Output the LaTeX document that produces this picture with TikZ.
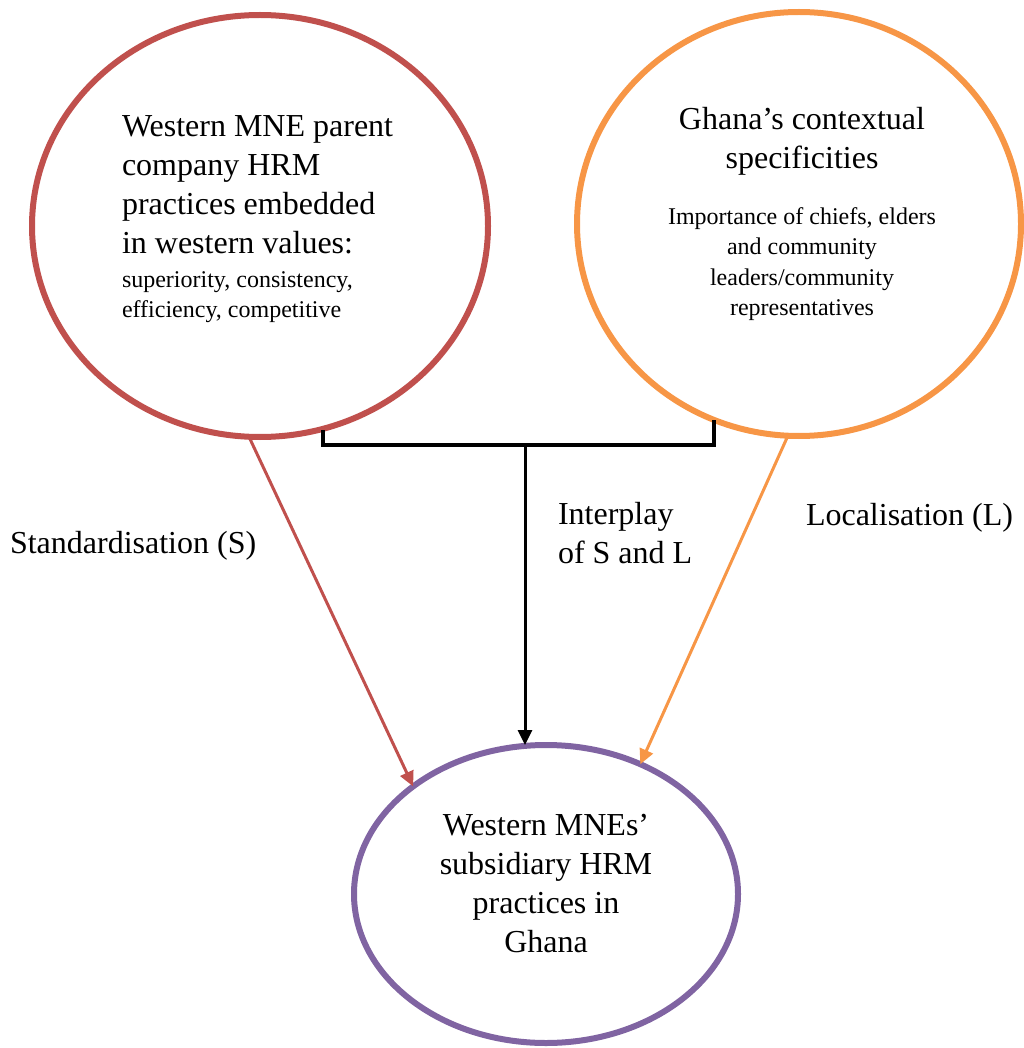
\documentclass[tikz,border=0pt]{standalone}
\usepackage{fontspec}
\setmainfont{Liberation Serif}
\usetikzlibrary{shapes.geometric,arrows.meta}

\definecolor{stdred}{HTML}{C0504D}
\definecolor{locorange}{HTML}{F79646}
\definecolor{subpurple}{HTML}{8064A2}

\newcommand{\bigtxt}{\fontsize{32}{39}\selectfont}
\newcommand{\smalltxt}{\fontsize{24}{30}\selectfont}

\tikzset{
  oval/.style={ellipse, draw, line width=6pt, inner sep=0pt, outer sep=0pt},
  conn/.style={line width=3pt, -{Triangle[length=15pt,width=14pt]}},
  body/.style={inner sep=0pt, outer sep=0pt, font=\bigtxt},
  detail/.style={inner sep=0pt, outer sep=0pt, font=\smalltxt},
}

\begin{document}
\begin{tikzpicture}[x=1pt,y=-1pt]
  \useasboundingbox (0,0) rectangle (1023,1048);

  % the three ellipses
  \node[oval, draw=stdred, minimum width=456pt, minimum height=422pt] (parent) at (260,226) {};
  \node[oval, draw=locorange, minimum width=444pt, minimum height=424pt] (ghana) at (799,224) {};
  \node[oval, draw=subpurple, minimum width=384pt, minimum height=298pt] (subsid) at (546,894) {};

  % text of the parent company ellipse (base = last line)
  \node[body, anchor=base west, align=left] (parenttxt) at (122,254)
    {Western MNE parent\\company HRM\\practices embedded\\in western values:};
  \node[detail, anchor=base west, align=left] (parentvals) at (122,317)
    {superiority, consistency,\\efficiency, competitive};

  % text of the Ghana ellipse
  \node[body, anchor=base, align=center] (ghanatxt) at (802,169)
    {Ghana’s contextual\\specificities};
  \node[detail, anchor=base, align=center] (ghanavals) at (802,315)
    {Importance of chiefs, elders\\and community\\leaders/community\\representatives};

  % text of the subsidiary ellipse
  \node[body, anchor=base, align=center] (subsidtxt) at (546,952)
    {Western MNEs’\\subsidiary HRM\\practices in\\Ghana};

  % bracket joining the two upper ellipses
  \coordinate (bl) at (323,430);
  \coordinate (br) at (714,420);
  \coordinate (bm) at (525,445);
  \draw[line width=4pt] (bl) -- (bl |- bm) -- (br |- bm) -- (br);

  % connectors
  \draw[conn, stdred] (parent.267) -- (subsid.141);
  \draw[conn, locorange] (ghana.267) -- (subsid.54);
  \draw[conn, black] (bm) -- (bm |- subsid.north);

  % connector labels
  \node[body, anchor=base west] (lstd) at (10,553) {Standardisation (S)};
  \node[body, anchor=base west, align=left] (linter) at (558,563) {Interplay\\of S and L};
  \node[body, anchor=base west] (lloc) at (806,525) {Localisation (L)};
\end{tikzpicture}
\end{document}
